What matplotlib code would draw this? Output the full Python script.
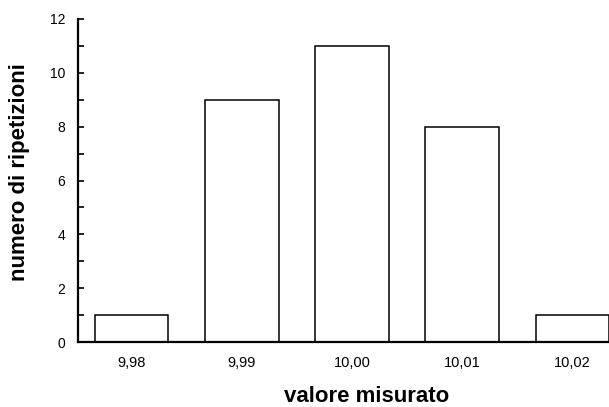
import matplotlib
matplotlib.use("Agg")
import matplotlib.pyplot as plt
from matplotlib.ticker import MultipleLocator

categories = ["9,98", "9,99", "10,00", "10,01", "10,02"]
counts = [1, 9, 11, 8, 1]

plt.rcParams['font.family'] = ['Liberation Sans', 'DejaVu Sans']
W, H = 609, 407
fig = plt.figure(figsize=(W/100, H/100), dpi=100)
ax = fig.add_axes([78/W, 1-342/H, (W-78)/W, (342-19)/H])
x = list(range(len(categories)))
ax.bar(x, counts, width=0.667, color='white', edgecolor='black', linewidth=1.1)
ax.set_xlim(-0.485, 4.331)
ax.set_ylim(0, 12)
ax.set_xticks(x)
ax.set_xticklabels(categories, fontsize=10.5)
ax.tick_params(axis='x', length=0, pad=10)
ax.yaxis.set_major_locator(MultipleLocator(2))
ax.yaxis.set_minor_locator(MultipleLocator(1))
ax.tick_params(axis='y', which='major', length=4, width=1.2, labelsize=10, pad=9, direction='in')
ax.tick_params(axis='y', which='minor', length=4, width=1.2, direction='in')
for s in ['top', 'right']:
    ax.spines[s].set_visible(False)
for s in ['left', 'bottom']:
    ax.spines[s].set_linewidth(1.6)
fig.text(367/W, 1-402/H, "valore misurato", fontsize=16, fontweight='bold',
         ha='center', va='baseline')
fig.text(20/W, 1-172.5/H, "numero di ripetizioni", fontsize=16, fontweight='bold',
         ha='center', va='center', rotation=90)
fig.savefig("out.png", dpi=100)
